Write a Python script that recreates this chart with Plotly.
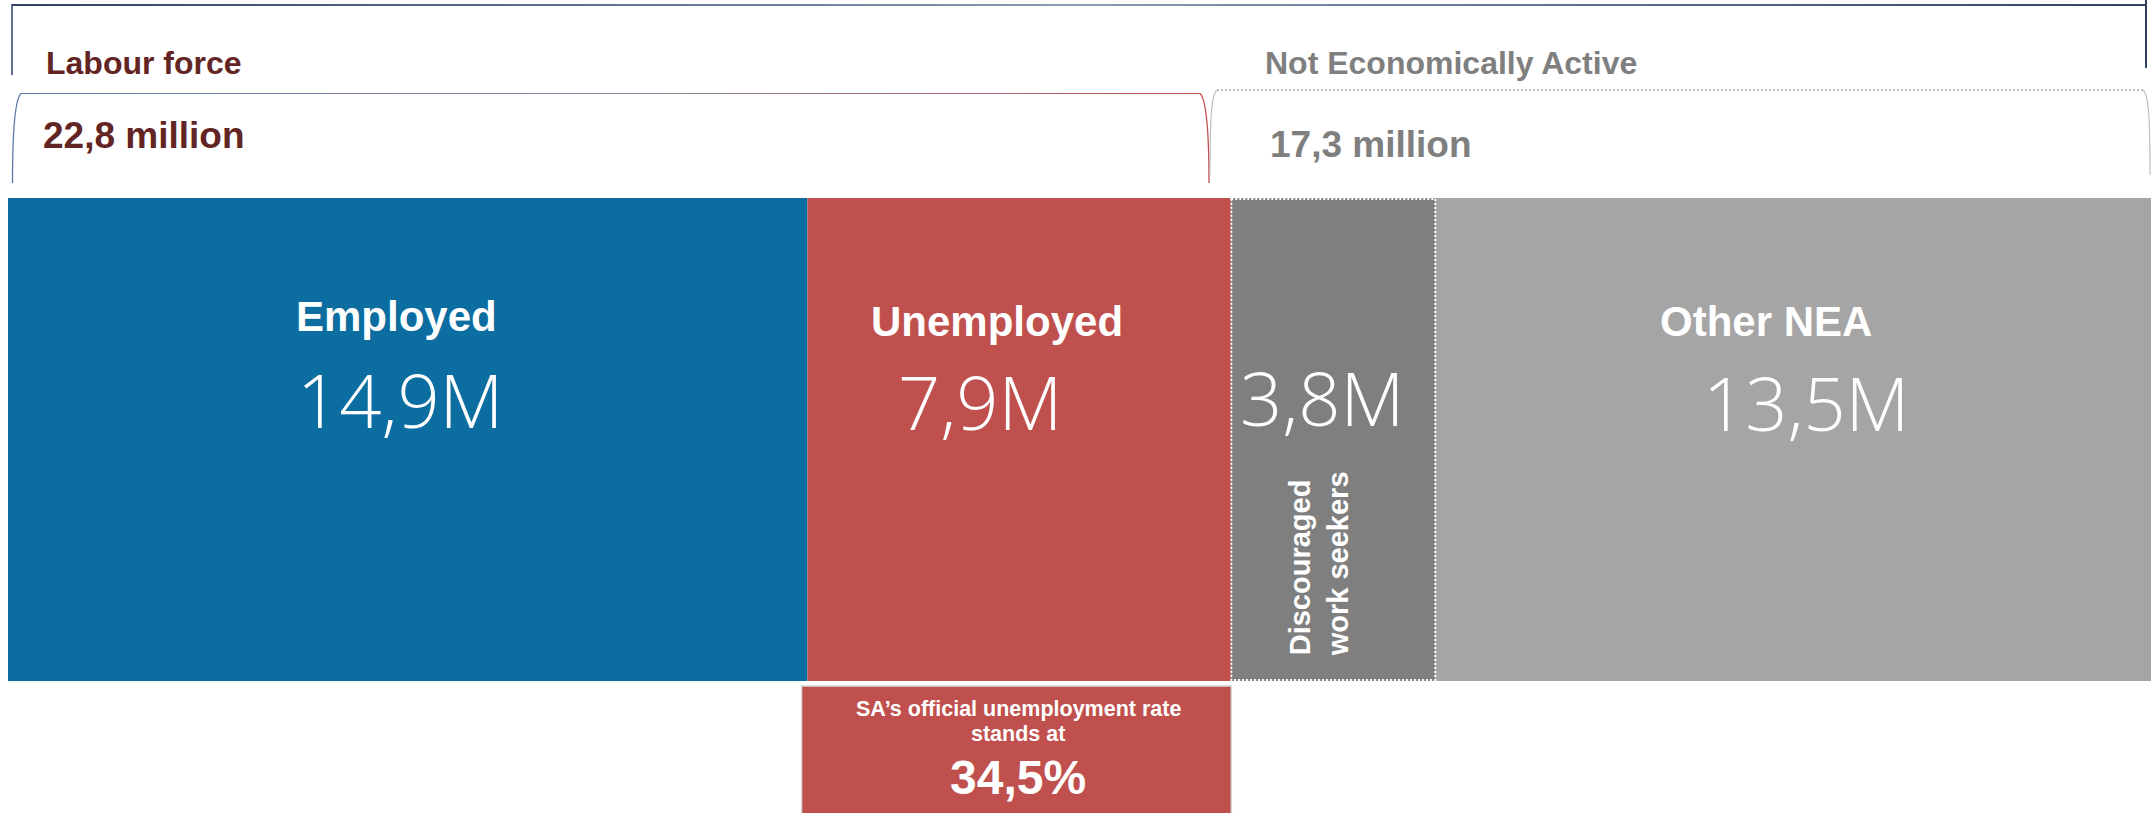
import plotly.graph_objects as go

# --- data (millions of people) ---
categories = ["Employed", "Unemployed", "Discouraged work seekers", "Other NEA"]
values = [14.9, 7.9, 3.8, 13.5]
bar_colors = ["#0B6DA0", "#C0504D", "#7F7F7F", "#A5A5A5"]
group_names = ["Labour force", "Not Economically Active"]
group_members = [[0, 1], [2, 3]]
unemployment_rate = 34.5

# --- canvas ---
W, H = 2151, 813
BAR_TOP, BAR_H = 198, 483
SANS = "Liberation Sans, Arial, sans-serif"
NUM_FONT = "Open Sans, Segoe UI, sans-serif"
MAROON = "#632523"
GREY_TXT = "#7F7F7F"


def fmt(v):
    return f"{v:.1f}".replace(".", ",")


def px(x):
    return x / W


starts = [sum(values[:i]) for i in range(len(values))]
centers = [s + v / 2 for s, v in zip(starts, values)]

fig = go.Figure()
fig.add_trace(go.Bar(
    x=centers, width=values, y=[BAR_H] * len(values), base=[BAR_TOP] * len(values),
    marker=dict(color=bar_colors, line=dict(width=0)),
    hovertext=categories, hoverinfo="text", showlegend=False,
))

shapes = []


def gradient_line(x0, x1, y, c0, c1, width, n=60, mid=None):
    def rgb(h):
        h = h.lstrip("#")
        return [int(h[i:i + 2], 16) for i in (0, 2, 4)]
    a, b = rgb(c0), rgb(c1)
    m = rgb(mid) if mid else None
    step = (x1 - x0) / n
    for i in range(n):
        t = (i + 0.5) / n
        if m:
            if t < 0.5:
                u = t * 2
                col = [round(a[k] + (m[k] - a[k]) * u) for k in range(3)]
            else:
                u = (t - 0.5) * 2
                col = [round(m[k] + (b[k] - m[k]) * u) for k in range(3)]
        else:
            col = [round(a[k] + (b[k] - a[k]) * t) for k in range(3)]
        # whole-pixel segment ends so neighbouring pieces butt cleanly
        sx0 = round(x0 + step * i)
        sx1 = round(x0 + step * (i + 1))
        shapes.append(dict(
            type="line", xref="paper", yref="y",
            x0=px(sx0), x1=px(sx1), y0=y, y1=y,
            line=dict(color="rgb(%d,%d,%d)" % tuple(col), width=width),
        ))


# outer frame across the top
gradient_line(12, 2146, 5, "#2E4262", "#2E4262", 2, mid="#8A99AE")
shapes.append(dict(type="line", xref="paper", yref="y", x0=px(12), x1=px(12), y0=4, y1=75,
                   line=dict(color="#2E4262", width=1.5)))
shapes.append(dict(type="line", xref="paper", yref="y", x0=px(2146), x1=px(2146), y0=0, y1=68,
                   line=dict(color="#2E4262", width=2)))

# labour force brace
gradient_line(21, 1200, 93.5, "#5B7AA6", "#C0504D", 1, mid="#8E8CA6")
shapes.append(dict(type="path", xref="paper", yref="y",
                   path=f"M {px(12.5)},183 C {px(12.5)},140 {px(14)},100 {px(21)},93.5",
                   line=dict(color="#5B7AA6", width=1.3)))
shapes.append(dict(type="path", xref="paper", yref="y",
                   path=f"M {px(1200)},93.5 C {px(1207)},100 {px(1209)},140 {px(1209)},183",
                   line=dict(color="#C0504D", width=1.3)))

# not economically active brace
shapes.append(dict(type="line", xref="paper", yref="y", x0=px(1217), x1=px(2143), y0=90, y1=90,
                   line=dict(color="#A6A6A6", width=1.5, dash="2px,2px")))
shapes.append(dict(type="path", xref="paper", yref="y",
                   path=f"M {px(1210)},175 C {px(1210)},120 {px(1211)},95 {px(1217)},90",
                   line=dict(color="#BFBFBF", width=1.2)))
shapes.append(dict(type="path", xref="paper", yref="y",
                   path=f"M {px(2143)},90 C {px(2149)},95 {px(2150)},120 {px(2150)},175",
                   line=dict(color="#BFBFBF", width=1.2)))

# dotted outline around the discouraged work seekers block
shapes.append(dict(type="rect", xref="x", yref="y",
                   x0=starts[2], x1=starts[2] + values[2], y0=BAR_TOP + 1, y1=BAR_TOP + BAR_H - 1,
                   line=dict(color="white", width=2, dash="2px,2px"), fillcolor="rgba(0,0,0,0)"))

# unemployment rate call-out under the unemployed block
shapes.append(dict(type="rect", xref="x", yref="y",
                   x0=starts[1] - 0.11, x1=starts[1] + values[1], y0=686, y1=830,
                   line=dict(color="#D9D9D9", width=1.5), fillcolor="#C0504D", layer="above"))

annotations = []


def text(s, x, y, size, color, family=SANS, weight="bold", xref="x", xanchor="center",
         xshift=0, angle=0, align="center"):
    annotations.append(dict(
        text=s, x=x, y=y, xref=xref, yref="y", xanchor=xanchor, yanchor="middle",
        xshift=xshift, showarrow=False, textangle=angle, align=align,
        font=dict(family=family, size=size, color=color, weight=weight),
    ))


# group headings and totals
group_totals = [sum(values[i] for i in m) for m in group_members]
text(group_names[0], px(44), 62.5, 32, MAROON, xref="paper", xanchor="left")
text(f"{fmt(group_totals[0])} million", px(41), 135.5, 37, MAROON, xref="paper", xanchor="left")
text(group_names[1], px(1263), 62.5, 32, GREY_TXT, xref="paper", xanchor="left")
text(f"{fmt(group_totals[1])} million", px(1268), 144, 37, GREY_TXT, xref="paper", xanchor="left")

# block titles
text(categories[0], centers[0], 316.5, 42, "white", xshift=-11)
text(categories[1], centers[1], 321.5, 42, "white", xshift=-22)
text(categories[3], centers[3], 321, 42, "white", xshift=-31)
text("Discouraged<br>work seekers", centers[2], 564, 29, "white", xshift=-14, angle=-90, align="left")

# block values
num_shift = [-7, -39, -11, 9]
num_y = [399.5, 401, 397, 402]
for i, v in enumerate(values):
    text(f"{fmt(v)}M", centers[i], num_y[i], 74, "white", family=NUM_FONT, weight=300,
         xshift=num_shift[i])

# call-out text
text("SA’s official unemployment rate", centers[1], 709, 21.5, "white", xshift=-1)
text("stands at", centers[1], 734, 21.5, "white", xshift=-1)
text(f"{fmt(unemployment_rate)}%", centers[1], 777, 48, "white", xshift=-1)

fig.update_layout(
    width=W, height=H, autosize=False,
    margin=dict(l=0, r=0, t=0, b=0),
    paper_bgcolor="white", plot_bgcolor="rgba(0,0,0,0)",
    xaxis=dict(range=[-0.149, 39.94], visible=False, fixedrange=True),
    yaxis=dict(range=[H, 0], visible=False, fixedrange=True),
    shapes=shapes, annotations=annotations, showlegend=False,
)

fig.write_html("out.html", config={"displayModeBar": False})
